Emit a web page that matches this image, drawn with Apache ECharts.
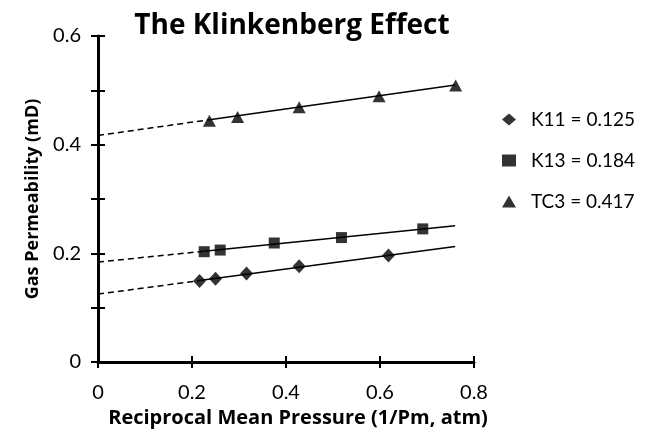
<!DOCTYPE html>
<html>
<head>
<meta charset="utf-8">
<script src="https://cdn.jsdelivr.net/npm/echarts@6/dist/echarts.min.js"></script>
<style>
  html, body { margin: 0; padding: 0; background: #fff; }
  #chart { width: 646px; height: 440px; }
</style>
</head>
<body>
<div id="chart"></div>
<script>
// Gas permeability vs reciprocal mean pressure for three core samples
const seriesNames = ['K11', 'K13', 'TC3'];
const k11X = [0.216, 0.250, 0.316, 0.428, 0.618];
const k11Y = [0.149, 0.153, 0.163, 0.176, 0.196];
const k13X = [0.226, 0.260, 0.375, 0.518, 0.691];
const k13Y = [0.203, 0.206, 0.219, 0.229, 0.245];
const tc3X = [0.237, 0.297, 0.428, 0.598, 0.761];
const tc3Y = [0.444, 0.451, 0.469, 0.489, 0.509];
// Klinkenberg fit: intercept (liquid permeability) and slope
const intercepts = [0.125, 0.184, 0.417];
const slopes = [0.115, 0.088, 0.122];
const fitEndX = 0.76;
const xTicks = [0, 0.2, 0.4, 0.6, 0.8];
const yTicks = [0, 0.2, 0.4, 0.6];

const FONT = 'Lato';
const BOLD_FONT = 'Open Sans';
const symbols = ['diamond', 'rect', 'triangle'];
const symbolSizes = [[13, 14], [11, 11], [13, 12]];
const xs = [k11X, k13X, tc3X];
const ys = [k11Y, k13Y, tc3Y];

const series = [];
seriesNames.forEach((n, i) => {
  const b = intercepts[i], m = slopes[i];
  const x0 = xs[i][0];
  const fit = x => +(b + m * x).toFixed(4);
  // extrapolation to 1/Pm = 0
  series.push({
    type: 'line', name: n + ' extrapolated', data: [[0, b], [x0, fit(x0)]],
    symbol: 'none', lineStyle: { color: '#000', width: 1.5, type: [6, 4] },
    silent: true, z: 1
  });
  // fitted line over the measured range
  series.push({
    type: 'line', name: n + ' fit', data: [[x0, fit(x0)], [fitEndX, fit(fitEndX)]],
    symbol: 'none', lineStyle: { color: '#000', width: 1.5 },
    silent: true, z: 1
  });
  series.push({
    type: 'scatter', name: n + ' = ' + b.toFixed(3),
    data: xs[i].map((x, k) => [x, ys[i][k]]),
    symbol: symbols[i], symbolSize: symbolSizes[i],
    itemStyle: { color: '#000' }, z: 3
  });
});

const axisLine = { show: true, lineStyle: { color: '#000', width: 3 } };
const tickStyle = { color: '#000', width: 2 };

const option = {
  animation: false,
  backgroundColor: '#fff',
  textStyle: { fontFamily: FONT, color: '#000' },
  title: {
    text: 'The Klinkenberg Effect', left: 287, top: 7, textAlign: 'center',
    textStyle: { fontFamily: BOLD_FONT, fontSize: 28, fontWeight: 'bold', color: '#000' }
  },
  legend: {
    orient: 'vertical', left: 497, top: 105, itemGap: 22,
    itemWidth: 14, itemHeight: 12,
    data: series.filter(s => s.type === 'scatter').map(s => s.name),
    textStyle: { fontFamily: FONT, fontSize: 19, color: '#000', padding: [0, 0, 0, 10] }
  },
  grid: { left: 98, right: 172, top: 36, bottom: 78 },
  xAxis: [{
    type: 'value', min: xTicks[0], max: xTicks[xTicks.length - 1], interval: 0.2,
    axisLine, splitLine: { show: false },
    axisTick: { show: true, length: 6, lineStyle: tickStyle },
    axisLabel: { fontFamily: FONT, fontSize: 20, color: '#000', margin: 21,
      formatter: v => xTicks.some(t => Math.abs(t - v) < 1e-9) ? String(+v.toFixed(1)) : '' },
    name: 'Reciprocal Mean Pressure (1/Pm, atm)', nameLocation: 'middle', nameGap: 37,
    nameTextStyle: { fontFamily: BOLD_FONT, fontSize: 20, fontWeight: 'bold', color: '#000',
      padding: [0, 0, 0, 24] }
  }, {
    type: 'value', min: xTicks[0], max: xTicks[xTicks.length - 1], interval: 0.2,
    position: 'bottom', axisLine: { show: false }, splitLine: { show: false },
    axisTick: { show: true, inside: true, length: 6, lineStyle: tickStyle },
    axisLabel: { show: false }
  }],
  yAxis: [{
    type: 'value', min: yTicks[0], max: yTicks[yTicks.length - 1], interval: 0.1,
    axisLine, splitLine: { show: false },
    axisTick: { show: true, length: 7, lineStyle: tickStyle },
    axisLabel: { fontFamily: FONT, fontSize: 20, color: '#000', margin: 17,
      formatter: v => yTicks.some(t => Math.abs(t - v) < 1e-9) ? String(+v.toFixed(1)) : '' },
    name: 'Gas Permeability (mD)', nameLocation: 'middle', nameGap: 53,
    nameTextStyle: { fontFamily: BOLD_FONT, fontSize: 18, fontWeight: 'bold', color: '#000' }
  }, {
    type: 'value', min: yTicks[0], max: yTicks[yTicks.length - 1], interval: 0.1,
    position: 'left', axisLine: { show: false }, splitLine: { show: false },
    axisTick: { show: true, inside: true, length: 7, lineStyle: tickStyle },
    axisLabel: { show: false }
  }],
  series
};

echarts.init(document.getElementById('chart'), null, { renderer: 'canvas' }).setOption(option);
</script>
</body>
</html>
